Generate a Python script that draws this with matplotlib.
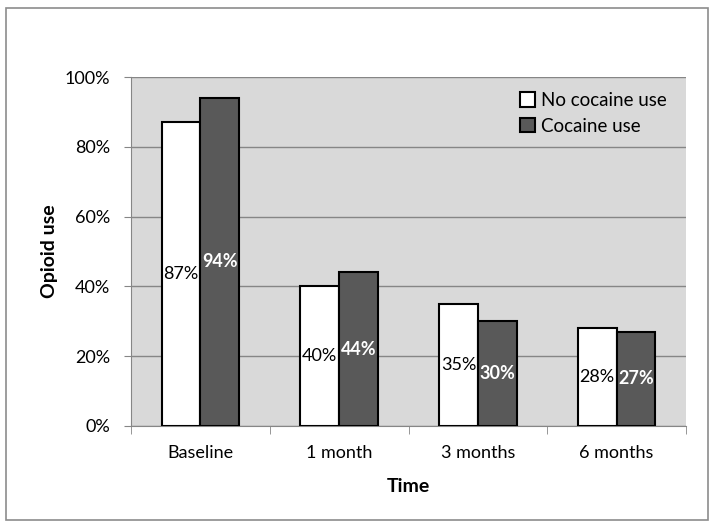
import matplotlib.pyplot as plt
import numpy as np

categories = ['Baseline', '1 month', '3 months', '6 months']
no_cocaine = [87, 40, 35, 28]
cocaine = [94, 44, 30, 27]
series_names = ['No cocaine use', 'Cocaine use']

plt.rcParams['font.family'] = ['Lato', 'DejaVu Sans']

fig = plt.figure(figsize=(7.14, 5.27), dpi=100)
# outer chart border
fig.patches.append(plt.Rectangle((0.009, 0.013), 0.982, 0.972, transform=fig.transFigure,
                                 fill=False, edgecolor='#8c8c8c', linewidth=1.2))
ax = fig.add_axes([131 / 714, 1 - 426 / 527, 555 / 714, 349 / 527])
ax.set_facecolor('#d9d9d9')

x = np.arange(len(categories))
w = 0.28
b1 = ax.bar(x - w / 2, no_cocaine, w, color='white', edgecolor='black', linewidth=1.5,
            label=series_names[0], zorder=3)
b2 = ax.bar(x + w / 2, cocaine, w, color='#595959', edgecolor='black', linewidth=1.5,
            label=series_names[1], zorder=3)

for rect, v in zip(b1, no_cocaine):
    ax.text(rect.get_x() + rect.get_width() / 2, v / 2, f'{v}%', ha='center', va='center',
            fontsize=13, color='black', zorder=4)
for rect, v in zip(b2, cocaine):
    ax.text(rect.get_x() + rect.get_width() / 2, v / 2, f'{v}%', ha='center', va='center',
            fontsize=13, color='white', fontweight='bold', zorder=4)

ax.set_xlim(-0.5, 3.5)
ax.set_ylim(0, 100)
ax.set_yticks(range(0, 101, 20))
ax.set_yticklabels([f'{t}%' for t in range(0, 101, 20)], fontsize=13)
ax.yaxis.grid(True, color='#868686', linewidth=1, zorder=0)
ax.set_axisbelow(True)

ax.set_xticks(x)
ax.set_xticklabels(categories, fontsize=13)
ax.tick_params(axis='x', length=0, pad=14)
ax.set_xticks(np.arange(-0.5, 4.0, 1), minor=True)
ax.tick_params(axis='x', which='minor', length=6, color='#868686')
ax.tick_params(axis='y', length=5, color='#868686', pad=10)

for s in ['top', 'right']:
    ax.spines[s].set_visible(False)
for s in ['left', 'bottom']:
    ax.spines[s].set_color('#868686')

ax.set_ylabel('Opioid use', fontsize=14, fontweight='bold', labelpad=5)
ax.set_xlabel('Time', fontsize=14, fontweight='bold', labelpad=12)

ax.legend(loc='upper right', frameon=False, fontsize=13.5, handlelength=0.8, handleheight=0.8,
          handletextpad=0.3, labelspacing=0.45, bbox_to_anchor=(0.995, 1.005))

fig.savefig('out.png', dpi=100)
